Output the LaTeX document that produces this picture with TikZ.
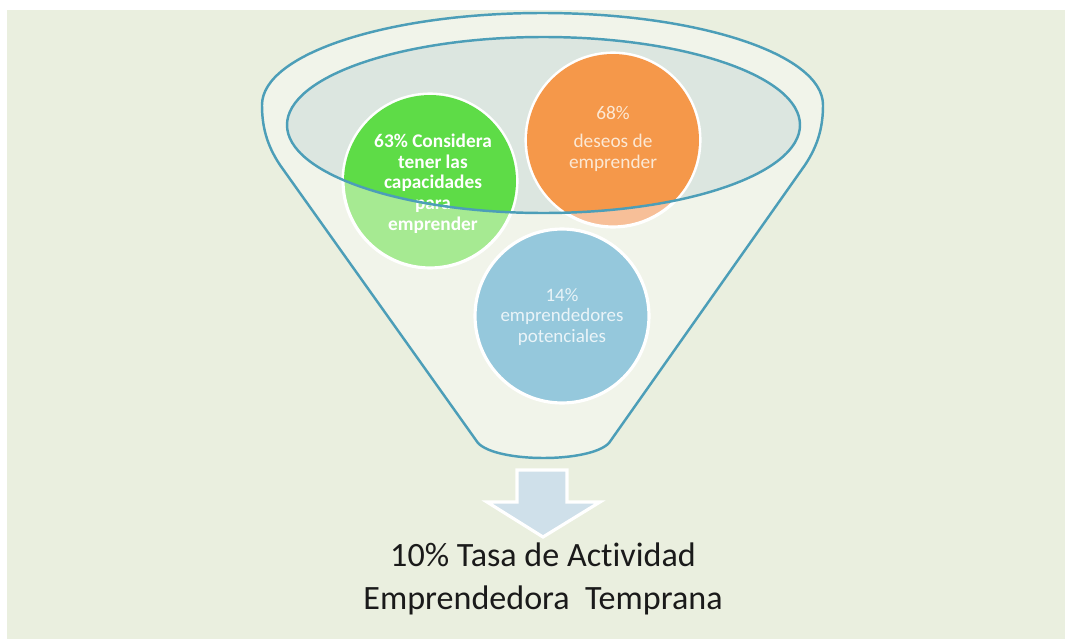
\documentclass[tikz,border=0pt]{standalone}
\usepackage{fontspec}
\setmainfont[Ligatures=NoCommon]{Carlito}
\definecolor{bgc}{HTML}{EAEFDF}
\definecolor{funfill}{HTML}{F1F4EA}
\definecolor{funline}{HTML}{4C9EB8}
\definecolor{ellfill}{HTML}{DCE6E0}
\definecolor{greenS}{HTML}{5EDC47}
\definecolor{greenL}{HTML}{A6EA92}
\definecolor{orangeS}{HTML}{F5984A}
\definecolor{orangeL}{HTML}{F7BF98}
\definecolor{blueC}{HTML}{95C8DC}
\definecolor{arrowc}{HTML}{CFE0EA}
\definecolor{txtO}{HTML}{FCE8D4}
\definecolor{txtB}{HTML}{EAF4F8}
\definecolor{txtK}{HTML}{1A1A1A}
\tikzset{
  bubble/.style={circle, draw=white, line width=1.8pt, minimum size=3.48cm, inner sep=0pt},
  btext/.style={align=center, font=\fontsize{11}{11.8}\selectfont, inner sep=0pt},
  funnelline/.style={draw=funline, line width=1.4pt},
}
\begin{document}
\begin{tikzpicture}[x=0.02cm,y=-0.02cm]
\useasboundingbox (0,0) rectangle (1065,639);
\fill[white] (0,0) rectangle (1065,639);
\fill[bgc] (7,10) rectangle (1065,639);
% funnel body
\path[funnelline, fill=funfill]
  (478,443) -- (280,165) .. controls (266,144) and (262,125) .. (262,105)
  .. controls (262,54) and (388,13) .. (542.5,13)
  .. controls (697,13) and (823,54) .. (823,105)
  .. controls (823,125) and (819,144) .. (805,165)
  -- (609,443) .. controls (590,463) and (497,463) .. (478,443) -- cycle;
% inner ellipse fill
\fill[ellfill] (543.5,125) ellipse [x radius=256.5, y radius=88];
% circles (light parts)
\node[bubble, fill=greenL] (g) at (430,181) {};
\node[bubble, fill=orangeL] (o) at (613,140) {};
\node[bubble, fill=blueC] (b) at (562,316) {};
% saturated parts inside ellipse
\begin{scope}
  \clip (543.5,125) ellipse [x radius=256.5, y radius=88];
  \fill[greenS] (g.center) circle [radius=1.72cm];
  \fill[orangeS] (o.center) circle [radius=1.72cm];
\end{scope}
% texts
\node[btext, text=white, font=\fontsize{11}{11.8}\selectfont\bfseries] (gt) at (433,183.5)
  {63\% Considera\\tener las\\capacidades\\para\\emprender};
\node[btext, text=txtO] (ot) at (613,139)
  {68\%\\[4pt]deseos de\\emprender};
\node[btext, text=txtB, font=\fontsize{10.8}{11.6}\selectfont] (bt) at (562,317)
  {14\%\\emprendedores\\potenciales};
% inner ellipse outline
\draw[funnelline] (543.5,125) ellipse [x radius=256.5, y radius=88];
% arrow
\path[draw=white, line width=1.8pt, fill=arrowc, line join=miter]
  (517,470) -- (567,470) -- (567,502) -- (600,502) -- (543,537) -- (487,502) -- (517,502) -- cycle;
\node[coordinate] (tip) at (543,537) {};
% bottom text
\node[text=txtK, align=center, font=\fontsize{19.4}{24.5}\selectfont, inner sep=0pt] (res) at (543,579)
  {10\% Tasa de Actividad\\Emprendedora\ \ Temprana};
\end{tikzpicture}
\end{document}
